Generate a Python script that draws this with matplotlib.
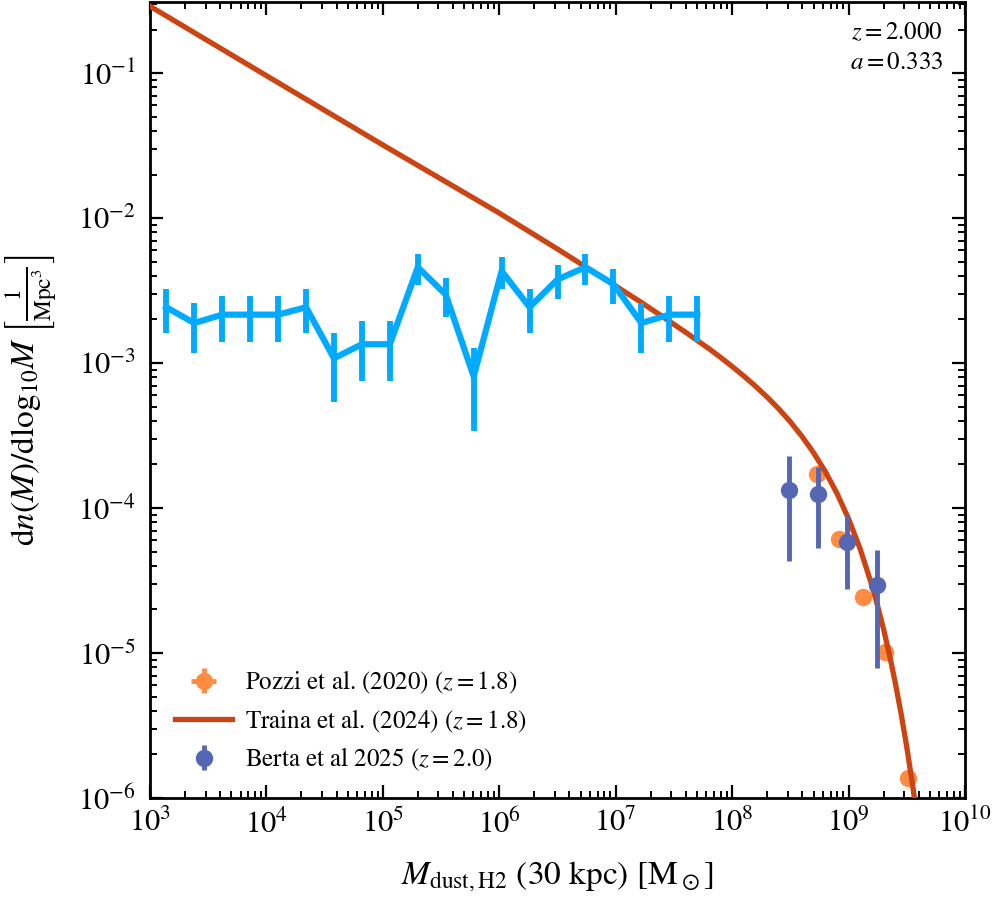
import numpy as np
import matplotlib
matplotlib.use( 'Agg' )
import matplotlib.pyplot as plt

############################ Data ##############
#simulation mass function (log10 of bin centre) and values
sim_logm = [ 3.14, 3.38, 3.62, 3.86, 4.10, 4.34, 4.58, 4.82, 5.06, 5.30,
             5.54, 5.78, 6.02, 6.26, 6.50, 6.74, 6.98, 7.22, 7.46, 7.70 ]
sim_phi = [ 2.43e-3, 1.89e-3, 2.16e-3, 2.16e-3, 2.16e-3, 2.43e-3, 1.08e-3, 1.35e-3, 1.35e-3, 4.59e-3,
            2.97e-3, 8.1e-4, 4.32e-3, 2.43e-3, 3.78e-3, 4.59e-3, 3.51e-3, 1.89e-3, 2.16e-3, 2.16e-3 ]
sim_err = [ 8.1e-4, 7.1e-4, 7.6e-4, 7.6e-4, 7.6e-4, 8.1e-4, 5.4e-4, 6.0e-4, 6.0e-4, 1.11e-3,
            9.0e-4, 4.7e-4, 1.08e-3, 8.1e-4, 1.01e-3, 1.11e-3, 9.7e-4, 7.1e-4, 7.6e-4, 7.6e-4 ]

#Traina et al. (2024) curve (log10 M, log10 phi)
traina_logm = [ 3.0, 4.0, 5.0, 6.0, 6.5, 7.0, 7.2, 7.4, 7.6, 7.8, 7.9, 8.0, 8.1, 8.2, 8.3, 8.4, 8.5,
                8.6, 8.7, 8.8, 8.9, 9.0, 9.1, 9.2, 9.25, 9.3, 9.35, 9.4, 9.45, 9.5, 9.55, 9.6 ]
traina_logphi = [ -0.538, -1.017, -1.495, -1.965, -2.213, -2.468, -2.571, -2.678, -2.787, -2.900, -2.960,
                  -3.023, -3.089, -3.159, -3.234, -3.315, -3.405, -3.506, -3.619, -3.748, -3.898, -4.074,
                  -4.283, -4.533, -4.677, -4.834, -5.008, -5.201, -5.414, -5.650, -5.912, -6.202 ]

#Pozzi et al. (2020)
pozzi_m = [ 5.4e8, 8.2e8, 1.32e9, 2.06e9, 3.25e9 ]
pozzi_phi = [ 1.71e-4, 6.14e-5, 2.43e-5, 1.02e-5, 1.37e-6 ]
pozzi_xerr = [ 2e7, 2e7, 3e7, 4e7, 6e7 ]
pozzi_yerr = [ 4e-6, 1.5e-6, 6e-7, 2.5e-7, 3e-8 ]

#Berta et al 2025
berta_m = [ 3.05e8, 5.5e8, 9.6e8, 1.77e9 ]
berta_phi = [ 1.34e-4, 1.26e-4, 5.88e-5, 2.96e-5 ]
berta_err_lo = [ 9.1e-5, 7.3e-5, 3.1e-5, 2.17e-5 ]
berta_err_hi = [ 9.3e-5, 6.7e-5, 3.1e-5, 2.19e-5 ]

############################ Style ##############
plt.rcParams['font.family'] = 'serif'
plt.rcParams['font.serif'] = [ 'STIXGeneral', 'Liberation Serif', 'DejaVu Serif' ]
plt.rcParams['mathtext.fontset'] = 'stix'
plt.rcParams['axes.linewidth'] = 2.0
for ax_name in [ 'xtick', 'ytick' ]:
    plt.rcParams[ax_name + '.direction'] = 'in'
    plt.rcParams[ax_name + '.major.size'] = 9.5
    plt.rcParams[ax_name + '.minor.size'] = 5
    plt.rcParams[ax_name + '.major.width'] = 1.6
    plt.rcParams[ax_name + '.minor.width'] = 1.4
    plt.rcParams[ax_name + '.labelsize'] = 22
plt.rcParams['xtick.top'] = True
plt.rcParams['ytick.right'] = True

fig = plt.figure( figsize = ( 9.96, 9.0 ), dpi = 100 )
ax = fig.add_axes( [ 0.1506, 0.1133, 0.8183, 0.8845 ] )

############################ Plot ##############
c_sim = '#00aaff'
c_traina = '#cc4411'
c_pozzi = '#ff8c42'
c_berta = '#5566b3'

h_pozzi = ax.errorbar( pozzi_m, pozzi_phi, xerr = pozzi_xerr, yerr = pozzi_yerr, fmt = 'o', color = c_pozzi,
                       ms = 11.5, elinewidth = 3.5, capsize = 0, label = r'Pozzi et al. (2020) ($z=1.8$)', zorder = 3 )

h_traina, = ax.plot( 10 ** np.array( traina_logm ), 10 ** np.array( traina_logphi ), color = c_traina, lw = 3.8,
                     label = r'Traina et al. (2024) ($z=1.8$)', zorder = 4 )

h_berta = ax.errorbar( berta_m, berta_phi, yerr = [ berta_err_lo, berta_err_hi ], fmt = 'o', color = c_berta,
                       ms = 11.5, elinewidth = 3.5, capsize = 0, label = r'Berta et al 2025 ($z=2.0$)', zorder = 5 )

ax.errorbar( 10 ** np.array( sim_logm ), sim_phi, yerr = sim_err, color = c_sim, lw = 4.5,
             elinewidth = 4.2, capsize = 0, zorder = 6 )

ax.set_xscale( 'log' )
ax.set_yscale( 'log' )
ax.set_xlim( 1e3, 1e10 )
ax.set_ylim( 1e-6, 0.31 )

ax.xaxis.set_major_locator( matplotlib.ticker.LogLocator( base = 10, numticks = 20 ) )
ax.xaxis.set_minor_locator( matplotlib.ticker.LogLocator( base = 10, subs = np.arange( 2, 10 ), numticks = 20 ) )
ax.yaxis.set_minor_locator( matplotlib.ticker.LogLocator( base = 10, subs = np.arange( 2, 10 ), numticks = 20 ) )
ax.xaxis.set_minor_formatter( matplotlib.ticker.NullFormatter() )
ax.yaxis.set_minor_formatter( matplotlib.ticker.NullFormatter() )
ax.tick_params( axis = 'x', pad = 8 )
ax.tick_params( axis = 'y', pad = 10 )

ax.set_xlabel( r'$M_{\mathrm{dust,H2}}$ (30 kpc) [M$_\odot$]', fontsize = 24, labelpad = 14 )
ax.set_ylabel( r'$\mathrm{d}n(M)/\mathrm{dlog}_{10}M\ \left[\frac{1}{\mathrm{Mpc}^3}\right]$', fontsize = 24, labelpad = 14 )

ax.text( 0.973, 0.961, r'$z=2.000$', transform = ax.transAxes, ha = 'right', va = 'center', fontsize = 18 )
ax.text( 0.973, 0.923, r'$a=0.333$', transform = ax.transAxes, ha = 'right', va = 'center', fontsize = 18 )

ax.legend( [ h_pozzi, h_traina, h_berta ],
           [ h_pozzi.get_label(), h_traina.get_label(), h_berta.get_label() ],
           loc = 'lower left', frameon = False, fontsize = 18, handlelength = 2.3,
           handletextpad = 0.5, labelspacing = 0.45, borderaxespad = 0.6 )

fig.savefig( 'out.png', dpi = 100 )
